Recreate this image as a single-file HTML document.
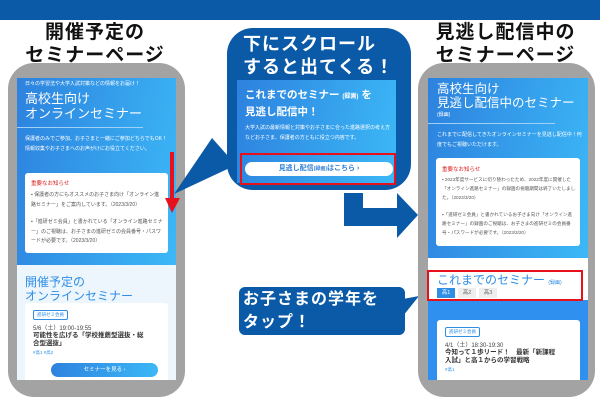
<!DOCTYPE html>
<html><head><meta charset="utf-8"><style>
*{margin:0;padding:0;box-sizing:border-box}
body{width:600px;height:400px;overflow:hidden;background:#fff;position:relative;font-family:"Liberation Sans","Noto Sans CJK JP",sans-serif}
.a{position:absolute;white-space:nowrap}
.t{font-weight:bold;font-size:19px;color:#111;text-align:center;line-height:23px;letter-spacing:1px}
.phone{position:absolute;background:#a3a3a3;border-radius:26px}
.scr{position:absolute;overflow:hidden}
.grad{background:linear-gradient(100deg,#2d82de,#3cb8f7)}
.w{color:#fff}
.s{font-size:5px;line-height:9.5px}
.card{position:absolute;background:#fff;border-radius:3px}
.gr{color:#555}
</style></head><body>
<div class="a" style="left:0;top:0;width:600px;height:20px;background:#0b5aa8"></div>

<div class="a t" style="left:0;top:21px;width:190px">開催予定の<br>セミナーページ</div>
<div class="a t" style="left:408px;top:21px;width:195px">見逃し配信中の<br>セミナーページ</div>

<!-- left phone -->
<div class="phone" style="left:8px;top:63px;width:177px;height:334px"></div>
<div class="scr" style="left:17px;top:78px;width:159px;height:302px;background:#eef6fd">
 <div class="a grad" style="left:0;top:0;width:159px;height:187px"></div>
 <div class="a w s" style="left:8px;top:2px">日々の学習法や大学入試対策などの情報をお届け！</div>
 <div class="a w" style="left:8px;top:13px;font-size:13px;line-height:15px">高校生向け<br>オンラインセミナー</div>
 <div class="a" style="left:0;top:49px;width:126px;height:1px;background:#9fd0f5"></div>
 <div class="a w s" style="left:8px;top:57px;white-space:normal;width:145px">保護者のみでご参加、お子さまと一緒にご参加どちらでもOK！ 情報収集やお子さまへのお声がけにお役立てください。</div>
 <div class="card" style="left:8px;top:95px;width:143px;height:80px">
  <div class="a" style="left:6px;top:6px;font-size:5.5px;color:#d22">重要なお知らせ</div>
  <div class="a gr s" style="left:6px;top:18px;white-space:normal;width:132px">▪ 保護者の方にもオススメのお子さま向け「オンライン進路セミナー」をご案内しています。（2023/3/20）</div>
  <div class="a gr s" style="left:6px;top:45px;white-space:normal;width:132px">▪「進研ゼミ会員」と書かれている「オンライン進路セミナー」のご視聴は、お子さまの進研ゼミの会員番号・パスワードが必要です。（2023/3/20）</div>
 </div>
 <div class="a" style="left:8px;top:197px;font-size:12px;line-height:14px;color:#2e8ee6">開催予定の<br>オンラインセミナー</div>
 <div class="card" style="left:8px;top:225px;width:143px;height:80px">
  <div class="a" style="left:8px;top:7px;font-size:4.5px;color:#2e8ee6;border:1px solid #2e8ee6;border-radius:2px;padding:1px 3px">進研ゼミ会員</div>
  <div class="a" style="left:8px;top:20px;font-size:6px;color:#444">5/6（土）19:00-19:55</div>
  <div class="a" style="left:8px;top:29px;font-size:6.5px;line-height:8px;font-weight:bold;color:#333">可能性を広げる「学校推薦型選抜・総<br>合型選抜」</div>
  <div class="a" style="left:8px;top:47px;font-size:4.5px;color:#2e8ee6">#高1 #高2</div>
  <div class="a grad w" style="left:26px;top:60px;width:107px;height:14px;border-radius:7px;font-size:5.5px;text-align:center;line-height:14px">セミナーを見る ›</div>
 </div>
</div>

<!-- red arrow -->
<div class="a" style="left:170px;top:152px;width:4px;height:48px;background:#e8101a"></div>
<svg class="a" style="left:0;top:0" width="600" height="400">
 <polygon points="165,198 180,198 172,213" fill="#e8101a"/>
 <polygon points="212,138 236,165 174,194" fill="#0b5aa8"/>
 <polygon points="403,299 403,316 419,296" fill="#0b5aa8"/>
 <polygon points="344,193 363,193 363,208 397,208 397,193 418,215 397,238 397,226 344,226" fill="#0b5aa8"/>
</svg>

<!-- bubble 1 -->
<div class="a" style="left:227px;top:28px;width:184px;height:162px;background:#0b5aa8;border-radius:26px"></div>
<div class="a w" style="left:243px;top:33px;font-size:18px;font-weight:bold;line-height:23px;letter-spacing:1px">下にスクロール<br>すると出てくる！</div>
<div class="a grad" style="left:237px;top:80px;width:159px;height:103px"></div>
<div class="a w" style="left:245px;top:88px;font-size:10.5px;font-weight:bold;line-height:15px">これまでのセミナー <span style="font-size:6px">(録画)</span> を<br>見逃し配信中！</div>
<div class="a w s" style="left:245px;top:124px;white-space:normal;width:148px">大学入試の最新情報と対策やお子さまに合った進路選択の考え方などお子さま、保護者の方ともに役立つ内容です。</div>
<div class="a" style="left:245px;top:162px;width:148px;height:14px;background:#fff;border-radius:7px;color:#2e7fd8;font-size:7px;font-weight:bold;text-align:center;line-height:14px">見逃し配信<span style="font-size:5px">(録画)</span>はこちら ›</div>
<div class="a" style="left:240px;top:153px;width:156px;height:32px;border:2px solid #e8101a"></div>

<!-- right phone -->
<div class="phone" style="left:418px;top:63px;width:177px;height:334px"></div>
<div class="scr" style="left:428px;top:78px;width:160px;height:302px;background:#3090f0">
 <div class="a grad" style="left:0;top:0;width:160px;height:180px"></div>
 <div class="a w" style="left:9px;top:4px;font-size:12.5px;line-height:14px">高校生向け<br>見逃し配信中のセミナー</div>
 <div class="a w" style="left:9px;top:33px;font-size:5px">(録画)</div>
 <div class="a" style="left:0;top:45px;width:127px;height:1px;background:#9fd0f5"></div>
 <div class="a w s" style="left:9px;top:53px;white-space:normal;width:145px">これまでに配信してきたオンラインセミナーを見逃し配信中！何度でもご視聴いただけます。</div>
 <div class="card" style="left:8px;top:80px;width:144px;height:88px">
  <div class="a" style="left:6px;top:7px;font-size:5.5px;color:#d22">重要なお知らせ</div>
  <div class="a gr" style="left:6px;top:17px;white-space:normal;width:134px;font-size:4.6px;line-height:9px">▪ 2023年度サービスに切り替わったため、2022年度に開催した「オンライン進路セミナー」の録画の視聴期間は終了いたしました。（2023/3/20）</div>
  <div class="a gr" style="left:6px;top:52px;white-space:normal;width:134px;font-size:4.6px;line-height:9px">▪「進研ゼミ会員」と書かれているお子さま向け「オンライン進路セミナー」の録画のご視聴は、お子さまの進研ゼミの会員番号・パスワードが必要です。（2023/3/20）</div>
 </div>
 <div class="a" style="left:0;top:180px;width:160px;height:42px;background:#fff"></div>
 <div class="a" style="left:9px;top:193px;font-size:12px;color:#2e8ee6">これまでのセミナー <span style="font-size:5px">(録画)</span></div>
 <div class="a w" style="left:9px;top:210px;width:18px;height:10px;background:#2e8ee6;font-size:5.5px;text-align:center;line-height:10px">高1</div>
 <div class="a" style="left:30px;top:210px;width:18px;height:10px;background:#eee;color:#666;font-size:5.5px;text-align:center;line-height:10px">高2</div>
 <div class="a" style="left:51px;top:210px;width:18px;height:10px;background:#eee;color:#666;font-size:5.5px;text-align:center;line-height:10px">高3</div>
 <div class="card" style="left:9px;top:242px;width:143px;height:70px">
  <div class="a" style="left:8px;top:7px;font-size:4.5px;color:#2e8ee6;border:1px solid #2e8ee6;border-radius:2px;padding:1px 3px">進研ゼミ会員</div>
  <div class="a" style="left:8px;top:20px;font-size:6px;color:#444">4/1（土）18:30-19:30</div>
  <div class="a" style="left:8px;top:29px;font-size:6.5px;line-height:8px;font-weight:bold;color:#333">今知って１歩リード！　最新「新課程<br>入試」と高１からの学習戦略</div>
  <div class="a" style="left:8px;top:47px;font-size:4.5px;color:#2e8ee6">#高1</div>
 </div>
</div>
<div class="a" style="left:427px;top:270px;width:156px;height:31px;border:2px solid #e8101a"></div>

<!-- bubble 2 -->
<div class="a" style="left:239px;top:287px;width:166px;height:48px;background:#0b5aa8;border-radius:6px"></div>
<div class="a w" style="left:243px;top:288px;font-size:16px;font-weight:bold;line-height:23px;letter-spacing:1px">お子さまの学年を<br>タップ！</div>
</body></html>
